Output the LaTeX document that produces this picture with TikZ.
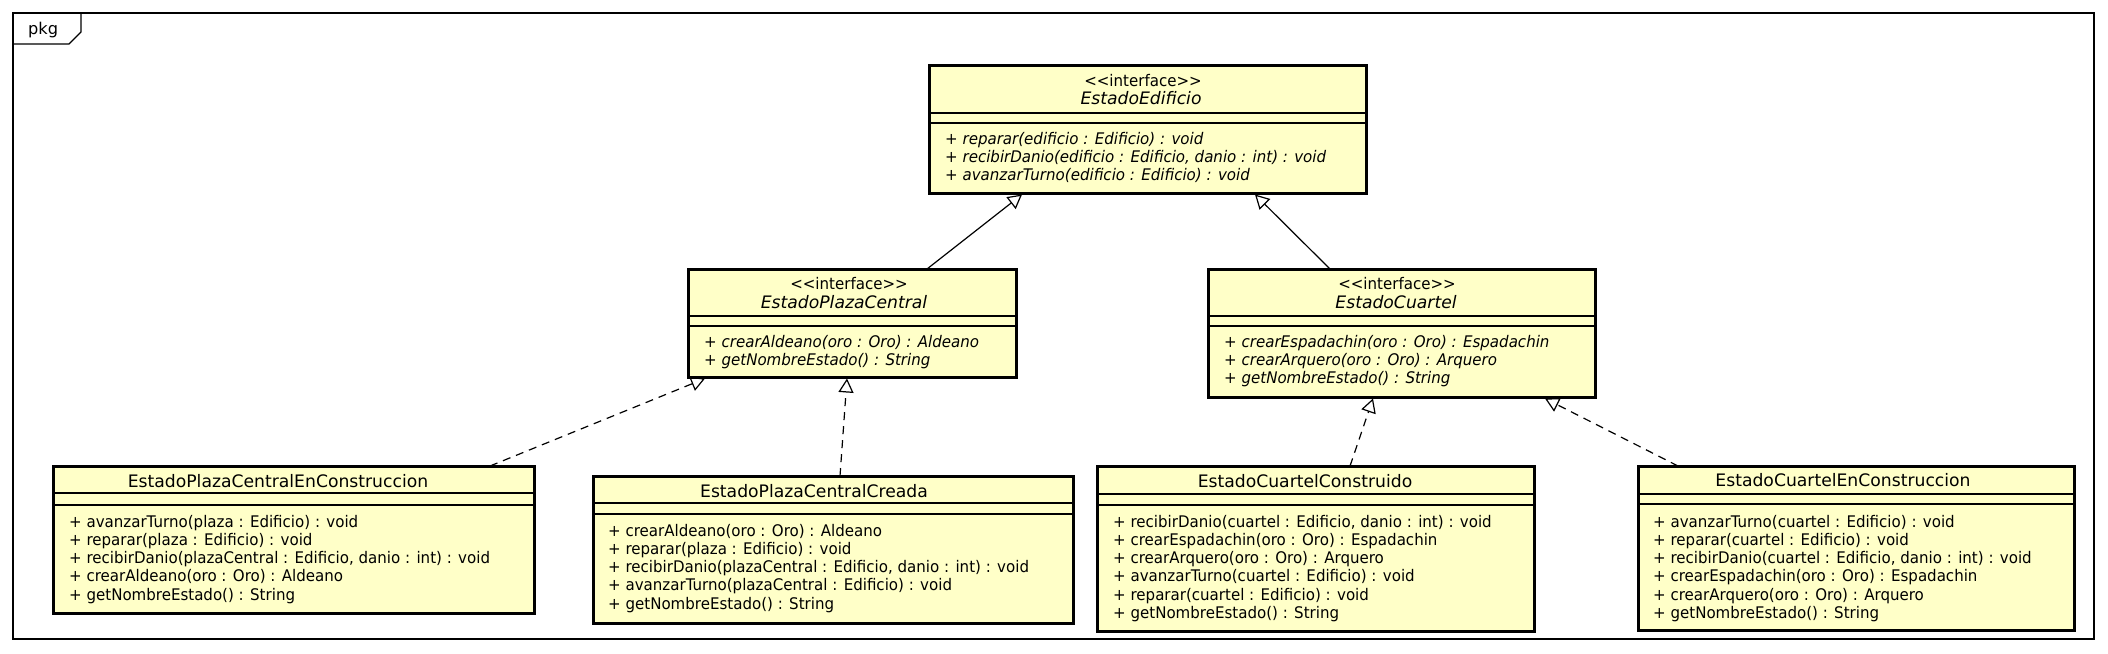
\documentclass[tikz,border=0pt]{standalone}
\usepackage{fontspec}
\setmainfont{DejaVu Sans}
\newfontfamily\mfont[FakeStretch=0.94]{DejaVu Sans}
\usetikzlibrary{arrows.meta}
\definecolor{clsfill}{RGB}{255,255,200}
\begin{document}
\begin{tikzpicture}[x=1pt,y=-1pt,
  cls/.style={draw=black, line width=3pt, fill=clsfill, rectangle, inner sep=0pt, outer sep=0pt},
  sepline/.style={line width=1.2pt},
  txt/.style={inner sep=0pt, font=\mfont\fontsize{16pt}{18.3pt}\selectfont},
  mth/.style={txt, anchor=base west},
  imth/.style={mth, font=\mfont\fontsize{16pt}{18.3pt}\selectfont\itshape},
  ttl/.style={txt, anchor=base},
  clsname/.style={inner sep=0pt, anchor=base, font=\fontsize{17.2pt}{18.3pt}\selectfont},
  iclsname/.style={clsname, font=\fontsize{17.2pt}{18.3pt}\selectfont\itshape},
  gen/.style={line width=1.2pt, -{Triangle[open, length=14pt, width=15pt, line width=1.2pt]}},
  realz/.style={gen, dash pattern=on 8pt off 6pt},
]
\fill[white] (0,0) rectangle (2108,653);
\useasboundingbox (0,0) rectangle (2108,653);

% package frame
\node[draw, line width=1.2pt, minimum width=2081pt, minimum height=626pt, inner sep=0pt, outer sep=0pt] (frame) at (1053.5,326) {};
\draw[line width=1.2pt] (frame.north west) ++(0,-31pt) -- ++(56pt,0) -- ++(12pt,12pt) -- ++(0,19pt);
\node[inner sep=0pt, anchor=base west, font=\fontsize{16.2pt}{18pt}\selectfont] (pkg) at (28,34) {pkg};

% EstadoEdificio
\node[cls, minimum width=437pt, minimum height=128pt] (ed) at (1147.5,129) {};
\draw[sepline] ([yshift=-48pt]ed.north west) -- ([yshift=-48pt]ed.north east);
\draw[sepline] ([yshift=-58pt]ed.north west) -- ([yshift=-58pt]ed.north east);
\node[ttl] (edst) at (1143,86) {<{}<interface>{}>};
\node[iclsname] (edn) at (1141,104) {EstadoEdificio};
\foreach \t [count=\i] in {{+ reparar(edificio : Edificio) : void},{+ recibirDanio(edificio : Edificio, danio : int) : void},{+ avanzarTurno(edificio : Edificio) : void}}
  \node[imth] (edm\i) at (945,{144+18*(\i-1)}) {\t};

% EstadoPlazaCentral
\node[cls, minimum width=328pt, minimum height=108pt] (pc) at (852,323) {};
\draw[sepline] ([yshift=-47pt]pc.north west) -- ([yshift=-47pt]pc.north east);
\draw[sepline] ([yshift=-57pt]pc.north west) -- ([yshift=-57pt]pc.north east);
\node[ttl] (pcst) at (849,289) {<{}<interface>{}>};
\node[iclsname] (pcn) at (844,308) {EstadoPlazaCentral};
\foreach \t [count=\i] in {{+ crearAldeano(oro : Oro) : Aldeano},{+ getNombreEstado() : String}}
  \node[imth] (pcm\i) at (704,{347+18.3*(\i-1)}) {\t};

% EstadoCuartel
\node[cls, minimum width=387pt, minimum height=128pt] (cu) at (1401.5,333) {};
\draw[sepline] ([yshift=-47pt]cu.north west) -- ([yshift=-47pt]cu.north east);
\draw[sepline] ([yshift=-57pt]cu.north west) -- ([yshift=-57pt]cu.north east);
\node[ttl] (cust) at (1397,289) {<{}<interface>{}>};
\node[iclsname] (cun) at (1396,308) {EstadoCuartel};
\foreach \t [count=\i] in {{+ crearEspadachin(oro : Oro) : Espadachin},{+ crearArquero(oro : Oro) : Arquero},{+ getNombreEstado() : String}}
  \node[imth] (cum\i) at (1224,{347+18.3*(\i-1)}) {\t};

% EstadoPlazaCentralEnConstruccion
\node[cls, minimum width=481pt, minimum height=147pt] (pe) at (293.5,539.5) {};
\draw[sepline] ([yshift=-27pt]pe.north west) -- ([yshift=-27pt]pe.north east);
\draw[sepline] ([yshift=-39pt]pe.north west) -- ([yshift=-39pt]pe.north east);
\node[clsname] (pen) at (278,487) {EstadoPlazaCentralEnConstruccion};
\foreach \t [count=\i] in {{+ avanzarTurno(plaza : Edificio) : void},{+ reparar(plaza : Edificio) : void},{+ recibirDanio(plazaCentral : Edificio, danio : int) : void},{+ crearAldeano(oro : Oro) : Aldeano},{+ getNombreEstado() : String}}
  \node[mth] (pem\i) at (69,{527+18.3*(\i-1)}) {\t};

% EstadoPlazaCentralCreada
\node[cls, minimum width=480pt, minimum height=147pt] (pr) at (833,549.5) {};
\draw[sepline] ([yshift=-27pt]pr.north west) -- ([yshift=-27pt]pr.north east);
\draw[sepline] ([yshift=-38pt]pr.north west) -- ([yshift=-38pt]pr.north east);
\node[clsname] (prn) at (814,497) {EstadoPlazaCentralCreada};
\foreach \t [count=\i] in {{+ crearAldeano(oro : Oro) : Aldeano},{+ reparar(plaza : Edificio) : void},{+ recibirDanio(plazaCentral : Edificio, danio : int) : void},{+ avanzarTurno(plazaCentral : Edificio) : void},{+ getNombreEstado() : String}}
  \node[mth] (prm\i) at (608,{536+18.3*(\i-1)}) {\t};

% EstadoCuartelConstruido
\node[cls, minimum width=437pt, minimum height=165pt] (cc) at (1315.5,548.5) {};
\draw[sepline] ([yshift=-28pt]cc.north west) -- ([yshift=-28pt]cc.north east);
\draw[sepline] ([yshift=-39pt]cc.north west) -- ([yshift=-39pt]cc.north east);
\node[clsname] (ccn) at (1305,487) {EstadoCuartelConstruido};
\foreach \t [count=\i] in {{+ recibirDanio(cuartel : Edificio, danio : int) : void},{+ crearEspadachin(oro : Oro) : Espadachin},{+ crearArquero(oro : Oro) : Arquero},{+ avanzarTurno(cuartel : Edificio) : void},{+ reparar(cuartel : Edificio) : void},{+ getNombreEstado() : String}}
  \node[mth] (ccm\i) at (1113,{527+18.3*(\i-1)}) {\t};

% EstadoCuartelEnConstruccion
\node[cls, minimum width=436pt, minimum height=164pt] (ce) at (1856,548) {};
\draw[sepline] ([yshift=-28pt]ce.north west) -- ([yshift=-28pt]ce.north east);
\draw[sepline] ([yshift=-38pt]ce.north west) -- ([yshift=-38pt]ce.north east);
\node[clsname] (cen) at (1843,486) {EstadoCuartelEnConstruccion};
\foreach \t [count=\i] in {{+ avanzarTurno(cuartel : Edificio) : void},{+ reparar(cuartel : Edificio) : void},{+ recibirDanio(cuartel : Edificio, danio : int) : void},{+ crearEspadachin(oro : Oro) : Espadachin},{+ crearArquero(oro : Oro) : Arquero},{+ getNombreEstado() : String}}
  \node[mth] (cem\i) at (1653,{527+18.3*(\i-1)}) {\t};

% connectors
\draw[gen] ([xshift=239pt]pc.north west) -- ([xshift=93pt,yshift=-1.5pt]ed.south west);
\draw[gen] ([xshift=122pt]cu.north west) -- ([xshift=326pt,yshift=-1.5pt]ed.south west);
\draw[realz] ([xshift=437pt]pe.north west) -- ([xshift=17pt,yshift=-1.5pt]pc.south west);
\draw[realz] ([xshift=247pt]pr.north west) -- ([xshift=159pt,yshift=-1.5pt]pc.south west);
\draw[realz] ([xshift=253pt]cc.north west) -- ([xshift=165pt,yshift=-1.5pt]cu.south west);
\draw[realz] ([xshift=40pt]ce.north west) -- ([xshift=337pt,yshift=-1.5pt]cu.south west);
\end{tikzpicture}
\end{document}
